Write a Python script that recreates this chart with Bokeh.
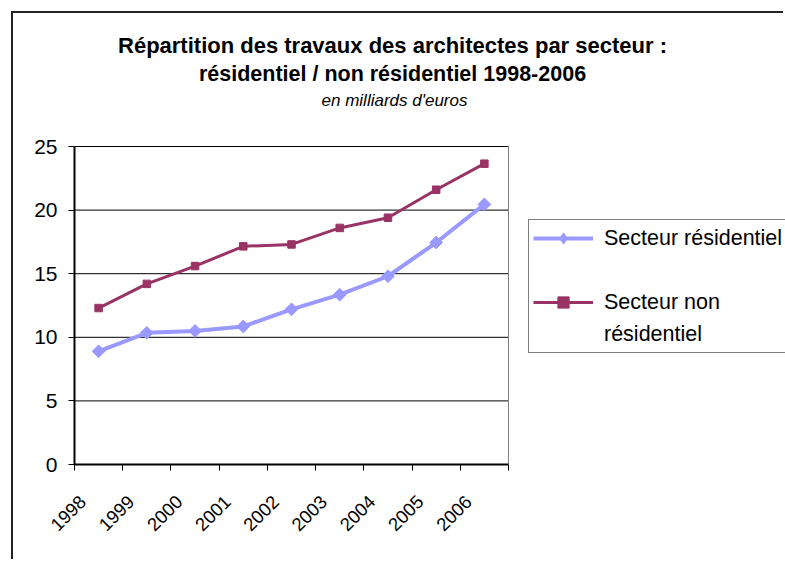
import math
from bokeh.plotting import figure
from bokeh.models import FixedTicker, Legend, LegendItem, Range1d, LinearAxis, Label
from bokeh.core.properties import value
from bokeh.embed import file_html
from bokeh.resources import INLINE

# ---- data ----
years = [1998, 1999, 2000, 2001, 2002, 2003, 2004, 2005, 2006]
residentiel = [8.9, 10.35, 10.5, 10.85, 12.2, 13.35, 14.8, 17.45, 20.45]
non_residentiel = [12.3, 14.2, 15.6, 17.15, 17.3, 18.6, 19.4, 21.6, 23.65]
y_ticks = [0, 5, 10, 15, 20, 25]
title_line1 = "Répartition des travaux des architectes par secteur :"
title_line2 = "résidentiel / non résidentiel 1998-2006"
subtitle = "en milliards d'euros"
series_names = ["Secteur résidentiel", "Secteur non", "résidentiel"]
series_colors = ["#9999FF", "#993366"]

FONT = "Liberation Sans"

# ---- layout (pixels) ----
W, H = 772, 548            # canvas
LEFT, BOTTOM = 61, 97      # axis panels
AREA_W, AREA_H = 434, 318  # visible plot area inside the frame
FRAME_W, FRAME_H = W - LEFT, H - BOTTOM
LABEL_SHIFT = 0.33         # rotated year labels sit left of the category centre

x0 = years[0] - 0.5
x1 = years[-1] + 0.5
x_end = x0 + (x1 - x0) * FRAME_W / AREA_W
y0, y1 = y_ticks[0], y_ticks[-1]
y_end = y0 + (y1 - y0) * FRAME_H / AREA_H

p = figure(width=W, height=H, output_backend="svg", toolbar_location=None,
           x_range=Range1d(x0, x_end), y_range=Range1d(y0, y_end),
           x_axis_location=None,
           min_border_left=LEFT, min_border_right=0, min_border_top=0,
           min_border_bottom=BOTTOM,
           margin=(11, 0, 0, 11),
           styles={"border-top": "2px solid #222", "border-left": "2px solid #222"})
p.extra_x_ranges = {"lab": Range1d(x0 + LABEL_SHIFT, x_end + LABEL_SHIFT)}

p.background_fill_color = "white"
p.border_fill_color = "white"
p.outline_line_color = None
p.xgrid.visible = False
p.ygrid.visible = False

# y axis
p.yaxis.ticker = FixedTicker(ticks=y_ticks)
p.yaxis.bounds = (y0, y1)
p.yaxis.major_tick_out = 6
p.yaxis.major_tick_in = 0
p.yaxis.minor_tick_line_color = None
p.yaxis.axis_line_width = 2
p.yaxis.axis_line_color = "black"
p.yaxis.major_tick_line_color = "black"
p.yaxis.major_label_standoff = 11
p.yaxis.major_label_text_font = FONT
p.yaxis.major_label_text_font_size = "21px"
p.yaxis.major_label_text_color = "black"

# x axis (category boundaries as tick marks, year labels)
xaxis = LinearAxis(x_range_name="lab",
                   bounds=(x0 + LABEL_SHIFT, x1 + LABEL_SHIFT),
                   ticker=FixedTicker(ticks=years,
                                      minor_ticks=[y - 0.5 + LABEL_SHIFT for y in years]
                                      + [x1 + LABEL_SHIFT]),
                   major_tick_line_color=None, major_tick_out=0, major_tick_in=0,
                   minor_tick_out=6, minor_tick_in=0, minor_tick_line_color="black",
                   axis_line_width=2, axis_line_color="black",
                   major_label_orientation=math.pi / 4, major_label_standoff=28,
                   major_label_text_font=FONT, major_label_text_font_size="18.5px",
                   major_label_text_color="black")
p.add_layout(xaxis, "below")

# horizontal gridlines and plot-area right border
grid_vals = y_ticks[1:]
p.segment(x0=[x0] * len(grid_vals), y0=grid_vals, x1=[x1] * len(grid_vals), y1=grid_vals,
          line_color="black", line_width=1)
p.segment(x0=[x1], y0=[y0], x1=[x1], y1=[y1], line_color="#808080", line_width=1)

# series
r1 = p.line(years, residentiel, line_color=series_colors[0], line_width=4)
s1 = p.scatter(years, residentiel, marker="square", angle=math.pi / 4, size=9,
               fill_color=series_colors[0], line_color=series_colors[0])
r2 = p.line(years, non_residentiel, line_color=series_colors[1], line_width=3)
s2 = p.scatter(years, non_residentiel, marker="square", size=7.5,
               fill_color=series_colors[1], line_color=series_colors[1])
# legend-only diamond marker (a single undefined point, never drawn in the plot)
leg_diamond = p.scatter(x=[float("nan")], y=[float("nan")], marker="diamond", size=13,
                        fill_color=series_colors[0], line_color=series_colors[0])

legend = Legend(items=[LegendItem(label=value(series_names[0]), renderers=[r1, leg_diamond]),
                       LegendItem(label=value(" "), renderers=[]),
                       LegendItem(label=value(series_names[1]), renderers=[r2, s2]),
                       LegendItem(label=value(series_names[2]), renderers=[])],
                location=(454, 111), margin=0, padding=4, spacing=4,
                glyph_width=60, glyph_height=28, label_height=28, label_width=185,
                label_standoff=11, label_text_font=FONT,
                label_text_font_size="21.5px", label_text_color="black",
                border_line_color="black", border_line_width=1,
                background_fill_color="white", background_fill_alpha=1.0)
p.add_layout(legend)

# titles (screen units relative to the frame's bottom-left corner)
TITLE_X = 318
p.add_layout(Label(x=TITLE_X, y=419, x_units="screen", y_units="screen", text=title_line1,
                   text_align="center", text_baseline="alphabetic", text_font=FONT,
                   text_font_size="22px", text_font_style="bold", text_color="black"))
p.add_layout(Label(x=TITLE_X, y=391, x_units="screen", y_units="screen", text=title_line2,
                   text_align="center", text_baseline="alphabetic", text_font=FONT,
                   text_font_size="21.5px", text_font_style="bold", text_color="black"))
p.add_layout(Label(x=TITLE_X + 2, y=364, x_units="screen", y_units="screen", text=subtitle,
                   text_align="center", text_baseline="alphabetic", text_font=FONT,
                   text_font_size="17px", text_font_style="italic", text_color="black"))

open("out.html", "w").write(file_html(p, INLINE))
